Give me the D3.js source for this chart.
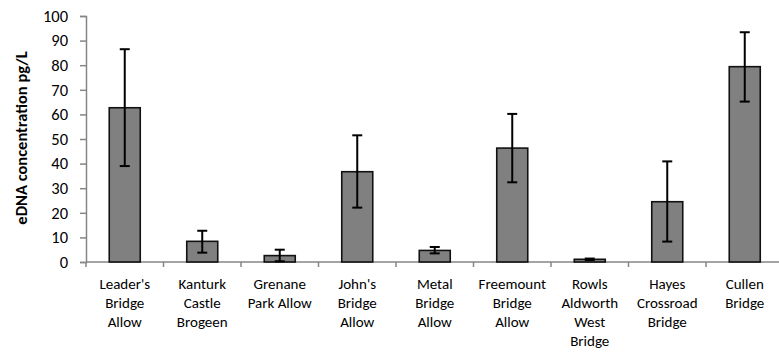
<!DOCTYPE html>
<html>
<head>
<meta charset="utf-8">
<script src="https://cdn.jsdelivr.net/npm/d3@7"></script>
<style>
  body { margin: 0; background: #fff; }
  svg { display: block; font-family: Calibri, Carlito, Lato, sans-serif; }
</style>
</head>
<body>
<svg width="779" height="354"></svg>
<script>
// sites (label lines) and measured values
var sites = [
  ["Leader's", "Bridge", "Allow"],
  ["Kanturk", "Castle", "Brogeen"],
  ["Grenane", "Park Allow"],
  ["John's", "Bridge", "Allow"],
  ["Metal", "Bridge", "Allow"],
  ["Freemount", "Bridge", "Allow"],
  ["Rowls", "Aldworth", "West", "Bridge"],
  ["Hayes", "Crossroad", "Bridge"],
  ["Cullen", "Bridge"]
];
var conc = [62.7, 8.4, 2.6, 36.7, 4.7, 46.3, 1.1, 24.5, 79.4];
var errHi = [86.5, 12.7, 5.0, 51.5, 6.1, 60.2, 1.4, 40.9, 93.4];
var errLo = [39.0, 3.8, 0.3, 22.1, 3.5, 32.4, 0.8, 8.3, 65.2];
var yTicks = [0, 10, 20, 30, 40, 50, 60, 70, 80, 90, 100];

var svg = d3.select("svg");
var axisCol = "#868686";

var x = d3.scaleBand()
    .domain(d3.range(sites.length))
    .range([86, 783.5])
    .padding(0);
var y = d3.scaleLinear().domain([0, 100]).range([262, 16]);
var bw = x.bandwidth() * 0.4;

// y axis
var ya = svg.append("g").attr("transform", "translate(86,0)")
    .call(d3.axisLeft(y).tickValues(yTicks).tickSize(6).tickPadding(12));
ya.select(".domain").attr("stroke", axisCol).attr("stroke-width", 1.5);
ya.selectAll(".tick line").attr("stroke", axisCol).attr("stroke-width", 1.5);
ya.selectAll(".tick text").attr("font-size", 16.5).attr("fill", "#000")
    .attr("font-family", "Calibri, Carlito, Lato, sans-serif");

// x axis line and ticks at band edges
svg.append("line")
    .attr("x1", 86).attr("x2", 779)
    .attr("y1", y(0)).attr("y2", y(0))
    .attr("stroke", axisCol).attr("stroke-width", 1.5);
svg.selectAll("line.xtick")
  .data(d3.range(sites.length + 1))
  .enter().append("line")
    .attr("class", "xtick")
    .attr("x1", function(d) { return 86 + d * x.bandwidth(); })
    .attr("x2", function(d) { return 86 + d * x.bandwidth(); })
    .attr("y1", y(0)).attr("y2", y(0) + 5)
    .attr("stroke", axisCol).attr("stroke-width", 1.5);

// bars
svg.selectAll("rect.bar")
  .data(conc)
  .enter().append("rect")
    .attr("class", "bar")
    .attr("x", function(d, i) { return x(i) + x.bandwidth() / 2 - bw / 2; })
    .attr("width", bw)
    .attr("y", function(d) { return y(d); })
    .attr("height", function(d) { return y(0) - y(d); })
    .attr("fill", "#808080")
    .attr("stroke", "#111")
    .attr("stroke-width", 1.6);

// error bars
var eb = svg.selectAll("g.err")
  .data(conc)
  .enter().append("g")
    .attr("class", "err")
    .attr("stroke", "#000")
    .attr("stroke-width", 2);
eb.append("line")
    .attr("x1", function(d, i) { return x(i) + x.bandwidth() / 2; })
    .attr("x2", function(d, i) { return x(i) + x.bandwidth() / 2; })
    .attr("y1", function(d, i) { return y(errHi[i]); })
    .attr("y2", function(d, i) { return y(errLo[i]); });
[errHi, errLo].forEach(function(arr) {
  eb.append("line")
    .attr("x1", function(d, i) { return x(i) + x.bandwidth() / 2 - 5; })
    .attr("x2", function(d, i) { return x(i) + x.bandwidth() / 2 + 5; })
    .attr("y1", function(d, i) { return y(arr[i]); })
    .attr("y2", function(d, i) { return y(arr[i]); });
});

// category labels
svg.selectAll("text.cat")
  .data(sites)
  .enter().append("text")
    .attr("class", "cat")
    .attr("text-anchor", "middle")
    .attr("font-size", 15)
    .attr("fill", "#000")
  .each(function(lines, i) {
    d3.select(this).selectAll("tspan")
      .data(lines)
      .enter().append("tspan")
        .attr("x", x(i) + x.bandwidth() / 2)
        .attr("y", function(d, j) { return 289 + j * 19; })
        .text(function(d) { return d; });
  });

// y axis title
svg.append("text")
    .attr("transform", "translate(27,138) rotate(-90)")
    .attr("text-anchor", "middle")
    .attr("font-size", 16.5)
    .attr("font-weight", "bold")
    .attr("fill", "#000")
    .text("eDNA concentration pg/L");
</script>
</body>
</html>
